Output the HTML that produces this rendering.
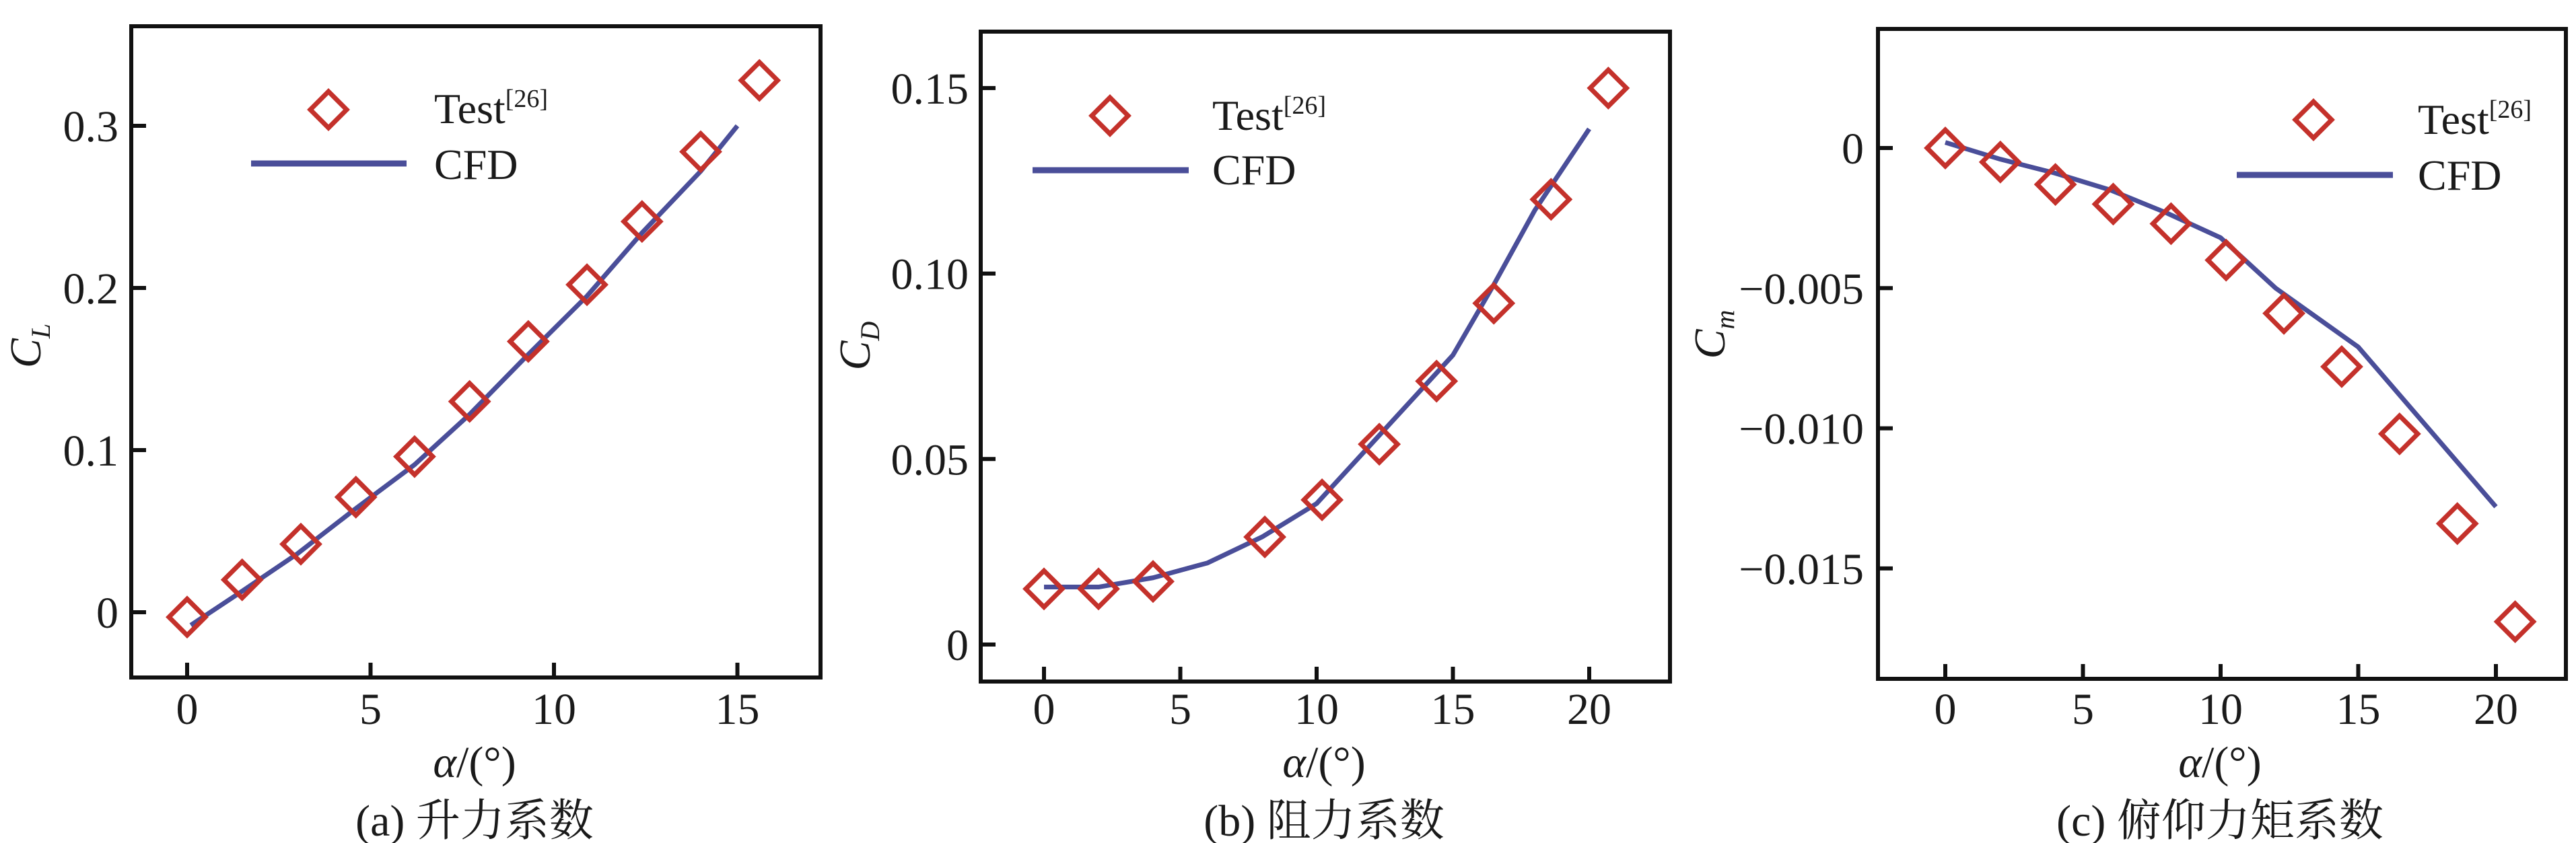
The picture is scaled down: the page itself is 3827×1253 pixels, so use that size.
<!DOCTYPE html>
<html><head><meta charset="utf-8">
<style>
html,body{margin:0;padding:0;background:#fff;}
svg{display:block;}
text{font-family:"Liberation Serif","Noto Serif CJK SC",serif;fill:#1a1a1a;}
</style></head>
<body>
<svg id="s" width="3827" height="1253" viewBox="0 0 3827 1253" xmlns="http://www.w3.org/2000/svg">
<rect width="3827" height="1253" fill="#fff"/>
<g id="g"></g>
<text x="705" y="1155" font-size="66" text-anchor="middle"><tspan font-style="italic">α</tspan>/(°)</text>
<text x="705" y="1242" font-size="66" text-anchor="middle">(a) 升力系数</text>
<text transform="translate(60,514) rotate(-90)" font-size="66" text-anchor="middle"><tspan font-style="italic">C</tspan><tspan font-style="italic" font-size="40" dy="14">L</tspan></text>
<text x="645" y="183" font-size="64">Test<tspan font-size="38" dy="-24">[26]</tspan></text>
<text x="645" y="266" font-size="64">CFD</text>

<text x="1967" y="1155" font-size="66" text-anchor="middle"><tspan font-style="italic">α</tspan>/(°)</text>
<text x="1967" y="1242" font-size="66" text-anchor="middle">(b) 阻力系数</text>
<text transform="translate(1292,514) rotate(-90)" font-size="66" text-anchor="middle"><tspan font-style="italic">C</tspan><tspan font-style="italic" font-size="40" dy="14">D</tspan></text>
<text x="1801" y="193" font-size="64">Test<tspan font-size="38" dy="-24">[26]</tspan></text>
<text x="1801" y="274" font-size="64">CFD</text>

<text x="3298" y="1155" font-size="66" text-anchor="middle"><tspan font-style="italic">α</tspan>/(°)</text>
<text x="3298" y="1242" font-size="66" text-anchor="middle">(c) 俯仰力矩系数</text>
<text transform="translate(2562,497) rotate(-90)" font-size="66" text-anchor="middle"><tspan font-style="italic">C</tspan><tspan font-style="italic" font-size="40" dy="14">m</tspan></text>
<text x="3592" y="199" font-size="64">Test<tspan font-size="38" dy="-24">[26]</tspan></text>
<text x="3592" y="282" font-size="64">CFD</text>
</svg>
<script>
var g=document.getElementById('g');var NS='http://www.w3.org/2000/svg';
function el(t,a,txt){var e=document.createElementNS(NS,t);for(var k in a)e.setAttribute(k,a[k]);if(txt!==undefined)e.textContent=txt;g.appendChild(e);return e;}
var RED='#c4312b',BLUE='#4a4e99';
function dia(x,y){var r=27;el('polygon',{points:(x)+','+(y-r)+' '+(x+r)+','+y+' '+x+','+(y+r)+' '+(x-r)+','+y,fill:'none',stroke:RED,'stroke-width':7});}
function panel(p){
 el('rect',{x:p.L,y:p.T,width:p.R-p.L,height:p.B-p.T,fill:'none',stroke:'#111','stroke-width':6});
 function X(a){return p.x0+a*p.xs;} function Y(v){return p.y0-v*p.ys;}
 p.xt.forEach(function(a){var x=X(a);el('line',{x1:x,y1:p.B,x2:x,y2:p.B-22,stroke:'#111','stroke-width':6});el('text',{x:x,y:1076,'font-size':66,'text-anchor':'middle'},String(a));});
 p.yt.forEach(function(t){var y=Y(t[0]);el('line',{x1:p.L,y1:y,x2:p.L+22,y2:y,stroke:'#111','stroke-width':6});el('text',{x:p.lx,y:y+23,'font-size':66,'text-anchor':'end'},t[1]);});
 var pts=p.cfd.map(function(d){return X(d[0])+','+Y(d[1]);}).join(' ');
 el('polyline',{points:pts,fill:'none',stroke:BLUE,'stroke-width':7,'stroke-linejoin':'round'});
 p.test.forEach(function(d){dia(X(d[0]),Y(d[1]));});
 dia(p.leg[0],p.leg[1]);
 el('line',{x1:p.leg[2],y1:p.leg[4],x2:p.leg[3],y2:p.leg[4],stroke:BLUE,'stroke-width':9});
}
panel({L:195,T:39,R:1219,B:1007,x0:278,xs:54.5,y0:910,ys:2410,lx:176,
 xt:[0,5,10,15],yt:[[0,'0'],[0.1,'0.1'],[0.2,'0.2'],[0.3,'0.3']],
 test:[[0,-0.003],[1.5,0.02],[3.1,0.042],[4.6,0.071],[6.2,0.096],[7.7,0.13],[9.3,0.167],[10.9,0.202],[12.4,0.241],[14,0.284],[15.6,0.328]],
 cfd:[[0.1,-0.008],[1.5,0.013],[3,0.036],[4.6,0.064],[6.2,0.091],[7.7,0.122],[9.3,0.159],[10.9,0.195],[12.4,0.234],[14,0.272],[15,0.3]],
 leg:[488,163,373,604,243]});
panel({L:1457,T:47,R:2481,B:1013,x0:1551,xs:40.5,y0:958,ys:5514,lx:1439,
 xt:[0,5,10,15,20],yt:[[0,'0'],[0.05,'0.05'],[0.10,'0.10'],[0.15,'0.15']],
 test:[[0,0.015],[2,0.015],[4,0.017],[8.1,0.029],[10.2,0.039],[12.3,0.054],[14.4,0.071],[16.5,0.092],[18.6,0.12],[20.7,0.15]],
 cfd:[[0,0.0155],[2,0.0155],[4,0.018],[6,0.022],[8,0.029],[10,0.038],[12,0.054],[14,0.07],[15,0.078],[16.5,0.097],[18,0.117],[20,0.139]],
 leg:[1649,172,1534,1766,253]});
panel({L:2790,T:43,R:3812,B:1009,x0:2890,xs:40.9,y0:220,ys:41660,lx:2769,
 xt:[0,5,10,15,20],yt:[[0,'0'],[-0.005,'\u22120.005'],[-0.010,'\u22120.010'],[-0.015,'\u22120.015']],
 test:[[0,0],[2,-0.0005],[4,-0.0013],[6.1,-0.002],[8.2,-0.0027],[10.2,-0.004],[12.3,-0.0059],[14.4,-0.0078],[16.5,-0.0102],[18.6,-0.0134],[20.7,-0.0169]],
 cfd:[[0,0.0002],[2,-0.0004],[4,-0.0009],[6,-0.0015],[8,-0.0023],[10,-0.0032],[12,-0.005],[15,-0.0071],[20,-0.0128]],
 leg:[3437,178,3323,3555,260]});
</script>
</body></html>
